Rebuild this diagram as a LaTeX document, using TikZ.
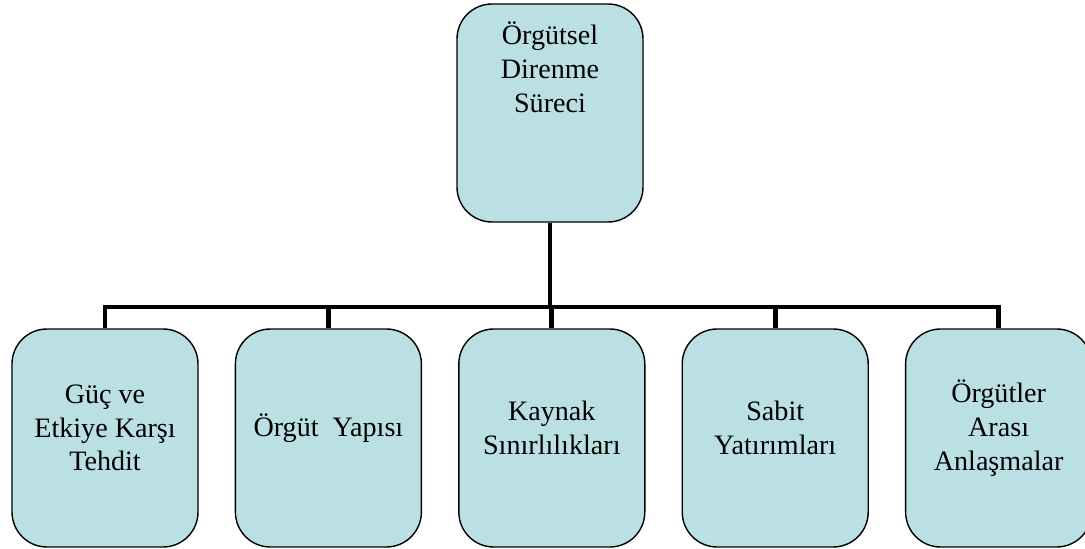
\documentclass[tikz,border=0pt]{standalone}
\usepackage{fontspec}
\setmainfont{Liberation Serif}
\usetikzlibrary{positioning}
\definecolor{boxblue}{RGB}{187,224,227}

\begin{document}
\begin{tikzpicture}[
    box/.style={draw=black, line width=0.8pt, fill=boxblue, rounded corners=0.7cm,
        minimum width=3.72cm, minimum height=4.36cm, inner sep=0.2cm,
        font=\fontsize{16}{19.2}\selectfont},
    midbox/.style={box,
        execute at begin node={\begin{minipage}[c][3.96cm][c]{3.3cm}\centering},
        execute at end node={\endgraf\vspace{0.4cm}\end{minipage}}},
    topbox/.style={box,
        execute at begin node={\begin{minipage}[c][3.96cm][t]{3.3cm}\centering\vspace*{0.16cm}},
        execute at end node={\end{minipage}}},
    conn/.style={line width=2.8pt, line join=miter}]
            \useasboundingbox (0,0) rectangle (21.7,10.96);
            \node[topbox] (root) at (11.0,8.7) {Örgütsel\\ Direnme\\ Süreci};
            \node[midbox] (c1) at (2.1,2.2) {Güç ve\\ Etkiye Karşı\\ Tehdit};
            \node[midbox, right=0.72cm of c1] (c2) {Örgüt\ \ Yapısı};
            \node[midbox, right=0.72cm of c2] (c3) {Kaynak\\ Sınırlılıkları};
            \node[midbox, right=0.72cm of c3] (c4) {Sabit\\ Yatırımları};
            \node[midbox, right=0.72cm of c4] (c5) {Örgütler\\ Arası\\ Anlaşmalar};
            \coordinate (bar) at (11.0,4.82);
            \draw[conn] (root.south) -- (root.south |- bar);
            \draw[conn] (c1.north) -- (c1.north |- bar) -- (c5.north |- bar) -- (c5.north);
            \foreach \n in {c2,c3,c4}
                \draw[conn] (\n.north) -- (\n.north |- bar);
        \end{tikzpicture}
\end{document}
